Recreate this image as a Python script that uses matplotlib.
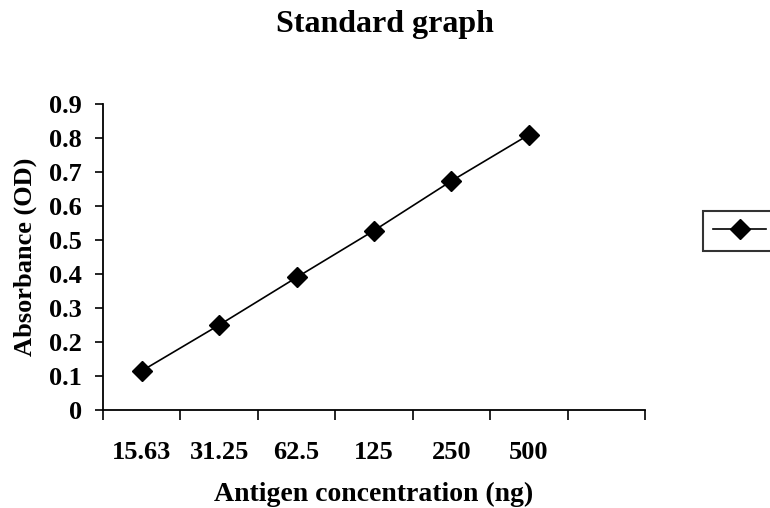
import matplotlib
matplotlib.use('Agg')
import matplotlib.pyplot as plt
import numpy as np

# standard curve readings
concentrations = ['15.63', '31.25', '62.5', '125', '250', '500']
absorbance = [0.115, 0.25, 0.39, 0.528, 0.674, 0.81]
y_ticks = [0, 0.1, 0.2, 0.3, 0.4, 0.5, 0.6, 0.7, 0.8, 0.9]

plt.rcParams['font.family'] = ['Liberation Serif', 'DejaVu Serif']
plt.rcParams['font.weight'] = 'bold'

fig = plt.figure(figsize=(7.7, 5.08), dpi=100)
ax = fig.add_axes([0.1338, 0.193, 0.7039, 0.602])

x = np.arange(len(concentrations)) + 0.5
line, = ax.plot(x, absorbance, color='black', lw=1.2, marker='D',
                markersize=10, markerfacecolor='black', markeredgecolor='black')

# category axis with one spare empty slot, ticks between categories
n_slots = len(concentrations) + 1
ax.set_xlim(0, n_slots)
ax.set_xticks(np.arange(n_slots + 1))
ax.set_xticklabels([])
ax.set_xticks(x, concentrations, minor=True)
ax.tick_params(axis='x', which='major', direction='out', length=7, width=1.2)
ax.tick_params(axis='x', which='minor', length=0, pad=22, labelsize=19)
for lbl in ax.get_xticklabels(minor=True):
    lbl.set_fontweight('bold')

ax.set_ylim(0, 0.9)
ax.set_yticks(y_ticks)
ax.set_yticklabels([('%g' % v) for v in y_ticks], fontweight='bold')
ax.tick_params(axis='y', direction='out', length=6, width=1.2, labelsize=19, pad=9)

for side in ['top', 'right']:
    ax.spines[side].set_visible(False)
for side in ['left', 'bottom']:
    ax.spines[side].set_linewidth(1.3)

ax.set_xlabel('Antigen concentration (ng)', fontsize=20, fontweight='bold', labelpad=13)
ax.set_ylabel('Absorbance (OD)', fontsize=19, fontweight='bold', labelpad=9)
fig.suptitle('Standard graph', fontsize=23, fontweight='bold', y=0.98)

# legend box runs off the right edge as in the source image (label not visible)
leg = fig.legend([line], [''], loc='center left',
                 bbox_to_anchor=(703 / 770, 1 - 231 / 508), fontsize=16,
                 handlelength=2.4, handletextpad=2.0, frameon=True, fancybox=False,
                 borderpad=0.45, borderaxespad=0)
leg.get_frame().set_edgecolor('black')
leg.get_frame().set_linewidth(1.5)

fig.savefig('out.png', dpi=100)
